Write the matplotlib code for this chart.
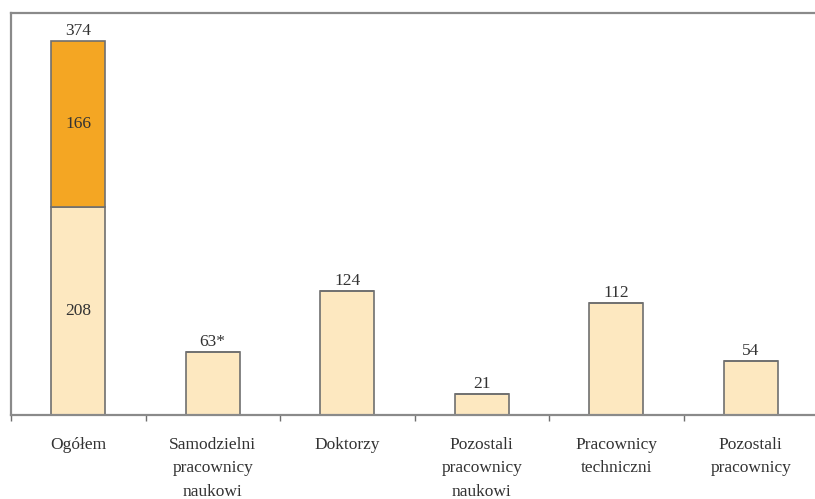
import numpy as np
import matplotlib.pyplot as plt

plt.rcParams["font.family"] = ["Liberation Serif", "DejaVu Serif"]

categories = ["Ogółem", "Samodzielni\npracownicy\nnaukowi", "Doktorzy",
              "Pozostali\npracownicy\nnaukowi", "Pracownicy\ntechniczni", "Pozostali\npracownicy"]
base_values = [208, 63, 124, 21, 112, 54]
top_values = [166, 0, 0, 0, 0, 0]
top_labels = ["374", "63*", "124", "21", "112", "54"]

light = "#FDE8C0"
orange = "#F4A623"
edge = "#6f6f6f"
fs = 12.5

fig = plt.figure(figsize=(8.15, 4.99), dpi=100)
ax = fig.add_axes([11 / 815, 1 - 415 / 499, 807 / 815, 402 / 499])

x = np.arange(len(categories))
w = 0.40
ax.bar(x, base_values, width=w, color=light, edgecolor=edge, linewidth=1.2, zorder=2)
ax.bar(x, top_values, width=w, bottom=base_values, color=orange, edgecolor=edge,
       linewidth=1.2, zorder=2)

totals = [b + t for b, t in zip(base_values, top_values)]
for xi, tot, lab in zip(x, totals, top_labels):
    ax.text(xi, tot + 2, lab, ha="center", va="bottom", fontsize=fs, color="#333333")

ax.text(x[0], base_values[0] / 2, str(base_values[0]), ha="center", va="center",
        fontsize=fs, color="#333333")
ax.text(x[0], base_values[0] + top_values[0] / 2, str(top_values[0]), ha="center",
        va="center", fontsize=fs, color="#333333")

ax.set_xlim(-0.5, len(categories) - 0.5)
ax.set_ylim(0, 402)
ax.set_yticks([])

ax.set_xticks(np.arange(len(categories) + 1) - 0.5)
ax.set_xticklabels([])
ax.set_xticks(x, minor=True)
ax.set_xticklabels(categories, minor=True, fontsize=fs, color="#333333", linespacing=1.6)
ax.tick_params(axis="x", which="major", direction="out", length=4, width=1, color=edge)
ax.tick_params(axis="x", which="minor", length=0, pad=16)

for s in ["top", "left", "bottom"]:
    ax.spines[s].set_color("#8a8a8a")
    ax.spines[s].set_linewidth(1.6)
ax.spines["right"].set_visible(False)

fig.savefig("out.png", dpi=100)
